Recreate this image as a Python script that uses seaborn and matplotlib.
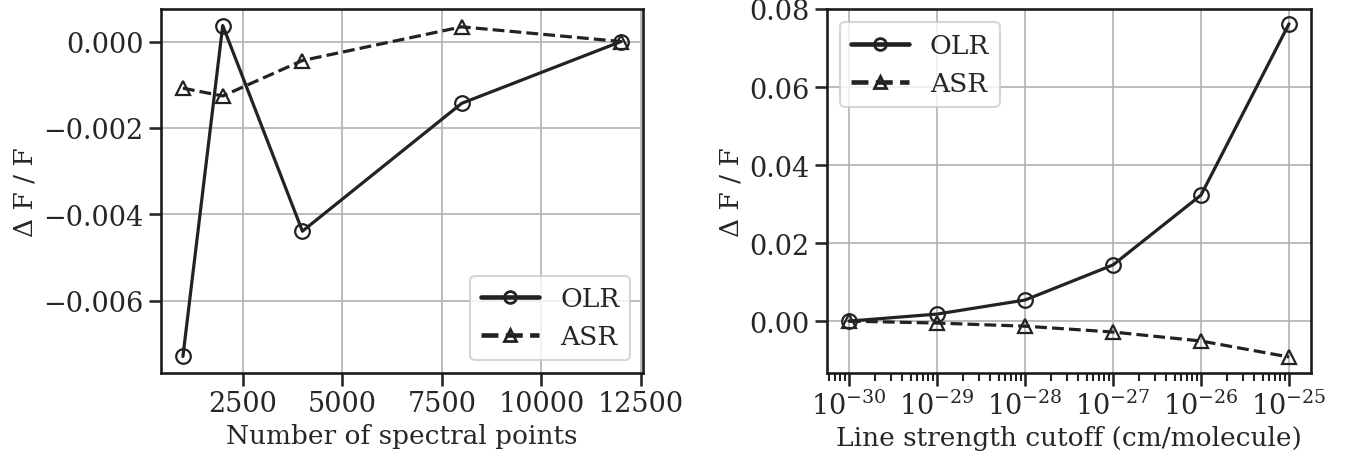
import numpy as np
import pandas as pd
import matplotlib
matplotlib.use("Agg")
import matplotlib.pyplot as plt
import matplotlib.ticker as mticker
import seaborn as sns

# Left panel data
n_points = [1000, 2000, 4000, 8000, 12000]
olr_points = [-0.00729, 0.00037, -0.00439, -0.00143, 0.0]
asr_points = [-0.00108, -0.00126, -0.00044, 0.00034, 0.0]

# Right panel data
cutoff = [1e-30, 1e-29, 1e-28, 1e-27, 1e-26, 1e-25]
olr_cut = [0.0, 0.0018, 0.0054, 0.0144, 0.0323, 0.0762]
asr_cut = [0.0, -0.0005, -0.0013, -0.0028, -0.0051, -0.0092]

sns.set_theme(style="ticks", context="talk", rc={"axes.grid": True})
plt.rcParams["font.family"] = ["DejaVu Serif"]
plt.rcParams["mathtext.fontset"] = "dejavusans"
plt.rcParams["grid.color"] = "#b8b8b8"
plt.rcParams["grid.linewidth"] = 1.3
plt.rcParams["xtick.labelsize"] = 19.5
plt.rcParams["ytick.labelsize"] = 19.5
plt.rcParams["axes.labelsize"] = 19
plt.rcParams["legend.fontsize"] = 19

line_color = "#222222"

fig = plt.figure(figsize=(13.46, 4.6), dpi=100)
ax1 = fig.add_axes([161 / 1346, 1 - 374 / 460, (643 - 161) / 1346, 364 / 460])
ax2 = fig.add_axes([827 / 1346, 1 - 374 / 460, (1311 - 827) / 1346, 364 / 460])

mk = dict(markerfacecolor="none", markeredgecolor=line_color, markersize=10.5,
          markeredgewidth=1.6, color=line_color, linewidth=2.3)


def fmt(decimals):
    return mticker.FuncFormatter(lambda v, p: f"{v:.{decimals}f}".replace("-", "\u2212"))


def style_legend(leg):
    for h in leg.get_lines():
        h.set_linewidth(3.3)
        h.set_markersize(8.5)
        h.set_markeredgewidth(2.0)


sns.lineplot(x=n_points, y=olr_points, ax=ax1, marker="o", linestyle="-", label="OLR", **mk)
sns.lineplot(x=n_points, y=asr_points, ax=ax1, marker="^", linestyle="--", label="ASR", **mk)
ax1.set_xlabel("Number of spectral points")
ax1.set_ylabel("Δ F / F")
ax1.xaxis.set_major_locator(mticker.MultipleLocator(2500))
ax1.set_yticks([0.0, -0.002, -0.004, -0.006])
ax1.yaxis.set_major_formatter(fmt(3))
style_legend(ax1.legend(loc="lower right", handlelength=2.2))

sns.lineplot(x=cutoff, y=olr_cut, ax=ax2, marker="o", linestyle="-", label="OLR", **mk)
sns.lineplot(x=cutoff, y=asr_cut, ax=ax2, marker="^", linestyle="--", label="ASR", **mk)
ax2.set_xscale("log")
ax2.xaxis.set_major_locator(mticker.LogLocator(base=10, numticks=30))
ax2.xaxis.set_minor_locator(mticker.LogLocator(base=10, subs=np.arange(2, 10), numticks=30))
ax2.xaxis.set_minor_formatter(mticker.NullFormatter())
ax2.set_ylim(-0.0133, 0.08)
ax2.set_yticks([0.0, 0.02, 0.04, 0.06, 0.08])
ax2.yaxis.set_major_formatter(fmt(2))
ax2.set_xlabel("Line strength cutoff (cm/molecule)")
ax2.set_ylabel("Δ F / F")
style_legend(ax2.legend(loc="upper left", handlelength=2.2))

for ax in (ax1, ax2):
    ax.grid(True, which="major")
    ax.grid(False, which="minor")
    for s in ax.spines.values():
        s.set_color("#1a1a1a")

fig.savefig("out.png", dpi=100)
